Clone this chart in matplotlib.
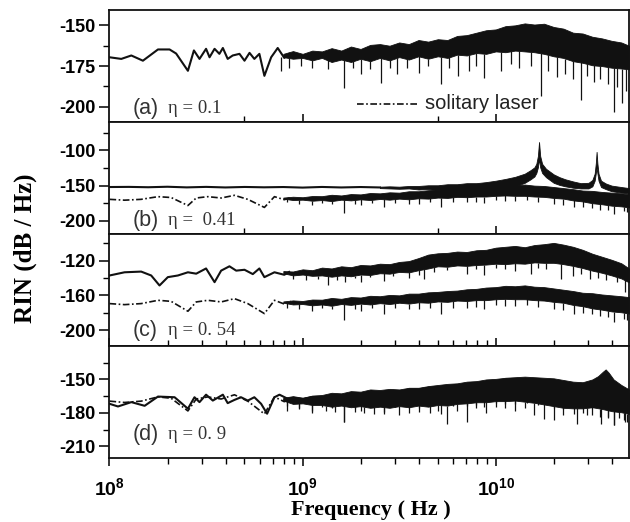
import matplotlib
matplotlib.use("Agg")
import matplotlib.pyplot as plt
import numpy as np
from matplotlib.ticker import FixedLocator, NullFormatter

# all frequencies are log10(f / Hz); levels in dB/Hz

# shared sampling for the dense (noisy) part of traces a, c and the solitary laser
BAND_LF = [8.90, 8.95, 9.00, 9.05, 9.10, 9.15, 9.20, 9.25, 9.30, 9.35,
           9.40, 9.45, 9.50, 9.55, 9.60, 9.65, 9.70, 9.75, 9.80, 9.85,
           9.90, 9.95, 10.00, 10.05, 10.10, 10.15, 10.20, 10.25, 10.30, 10.35,
           10.40, 10.45, 10.50, 10.55, 10.60, 10.65, 10.69]

# (a) eta = 0.1
A_LINE_LF = [8.000, 8.061, 8.113, 8.173, 8.251, 8.311, 8.345, 8.406, 8.437, 8.466,
             8.500, 8.518, 8.544, 8.569, 8.587, 8.612, 8.638, 8.673, 8.699, 8.725,
             8.750, 8.776, 8.802, 8.837, 8.871, 8.905, 8.930]
A_LINE_DB = [-169.6, -170.6, -168.5, -171.7, -164.8, -164.8, -167.3, -177.9, -165.4, -170.6,
             -164.4, -169.6, -164.4, -167.5, -163.9, -170.6, -168.5, -167.5, -171.7, -166.9,
             -170.6, -167.5, -181.0, -169.6, -163.9, -170.0, -167.5]
A_BAND_HI = [-167.5, -165.8, -167.5, -165.5, -166.0, -164.0, -165.5, -163.0, -164.5, -162.0,
             -161.5, -162.5, -160.5, -161.5, -159.0, -160.0, -158.5, -159.0, -156.5, -156.0,
             -154.5, -153.0, -152.5, -150.5, -150.0, -148.8, -149.5, -149.0, -151.0, -152.0,
             -154.5, -155.0, -157.0, -158.0, -159.5, -160.5, -162.5]
A_BAND_LO = [-169.5, -170.5, -170.0, -171.5, -170.0, -172.5, -171.0, -172.5, -170.5, -172.0,
             -170.0, -171.5, -169.5, -171.0, -169.0, -170.5, -169.0, -170.0, -168.0, -168.5,
             -167.0, -167.5, -166.0, -166.5, -165.5, -166.0, -166.5, -167.5, -169.0, -170.0,
             -172.0, -173.0, -174.5, -175.0, -176.0, -176.5, -177.0]
A_SPIKE_LF = [8.888, 8.931, 8.990, 9.050, 9.130, 9.216, 9.260, 9.302, 9.350, 9.405,
              9.450, 9.490, 9.540, 9.600, 9.650, 9.716, 9.760, 9.802, 9.860, 9.900,
              9.940, 10.026, 10.080, 10.120, 10.180, 10.233, 10.270, 10.319, 10.360, 10.400,
              10.439, 10.470, 10.508, 10.540, 10.580, 10.612, 10.630, 10.655, 10.675]
A_SPIKE_DB = [-178.0, -176.0, -175.0, -176.0, -177.0, -188.3, -176.0, -180.0, -177.0, -185.2,
              -176.0, -180.0, -176.0, -179.0, -175.0, -186.3, -176.0, -181.0, -178.0, -175.0,
              -182.1, -178.0, -174.0, -176.0, -175.0, -193.5, -178.0, -182.0, -180.0, -183.0,
              -195.6, -181.0, -185.0, -183.0, -186.0, -202.9, -188.0, -197.7, -190.0]

# solitary laser (dash-dot, panels b-d)
S_LINE_LF = [8.000, 8.078, 8.164, 8.251, 8.319, 8.406, 8.449, 8.509, 8.578, 8.647,
             8.716, 8.802, 8.854, 8.905, 8.940]
S_LINE_DB = [-169.5, -170.7, -169.5, -165.7, -166.9, -178.3, -167.6, -165.7, -167.6, -163.8,
             -169.5, -181.0, -165.7, -170.0, -167.0]
S_BAND_HI = [-167.0, -165.8, -166.5, -164.8, -165.0, -163.0, -164.0, -162.0, -162.5, -160.5,
             -161.0, -159.5, -160.0, -158.0, -158.0, -156.5, -156.0, -155.0, -154.5, -153.0,
             -152.5, -151.0, -150.5, -149.0, -149.5, -148.5, -150.0, -150.5, -152.0, -153.5,
             -155.0, -157.0, -157.5, -159.0, -160.0, -161.0, -162.0]
S_BAND_LO = [-168.5, -170.5, -170.0, -171.5, -170.5, -172.0, -170.0, -171.0, -169.5, -170.5,
             -169.0, -170.0, -168.5, -169.5, -168.0, -168.5, -167.0, -167.5, -166.0, -166.5,
             -165.5, -165.5, -164.5, -164.0, -164.5, -164.5, -165.5, -166.0, -167.5, -168.5,
             -171.0, -172.5, -175.0, -176.5, -178.5, -179.5, -181.0]
S_SPIKE_LF = [8.920, 8.980, 9.050, 9.100, 9.150, 9.216, 9.270, 9.300, 9.360, 9.423,
              9.480, 9.550, 9.600, 9.660, 9.716, 9.780, 9.850, 9.900, 9.940, 10.000,
              10.050, 10.100, 10.160, 10.220, 10.300, 10.350, 10.405, 10.450, 10.500, 10.540,
              10.580, 10.612, 10.663, 10.680]
S_SPIKE_DB = [-174.0, -176.0, -178.0, -175.0, -176.0, -188.6, -176.0, -178.0, -175.0, -181.0,
              -175.0, -176.0, -176.0, -174.0, -181.0, -174.0, -174.0, -173.0, -175.2, -171.0,
              -172.0, -172.0, -171.0, -173.0, -176.0, -177.0, -181.0, -180.0, -182.0, -184.0,
              -185.0, -190.5, -186.7, -188.0]

# (b) eta = 0.41
B_LINE_LF = [8.00, 8.10, 8.20, 8.30, 8.40, 8.50, 8.60, 8.70, 8.80, 8.90,
             9.00, 9.10, 9.20, 9.30, 9.40]
B_LINE_DB = [-152.0, -151.8, -152.3, -151.6, -152.5, -151.8, -152.6, -151.9, -152.4, -152.0,
             -152.8, -151.9, -152.6, -152.0, -152.6]
B_BAND_LF = [9.40, 9.45, 9.50, 9.55, 9.60, 9.65, 9.70, 9.75, 9.80, 9.85,
             9.90, 9.95, 10.00, 10.05, 10.10, 10.15, 10.18, 10.20, 10.21, 10.218,
             10.224, 10.230, 10.24, 10.26, 10.28, 10.30, 10.33, 10.36, 10.40, 10.44,
             10.48, 10.50, 10.512, 10.518, 10.522, 10.526, 10.532, 10.545, 10.57, 10.60,
             10.65, 10.69]
B_BAND_HI = [-151.5, -151.0, -151.5, -150.5, -150.5, -149.5, -149.5, -148.0, -148.0, -146.5,
             -146.5, -145.0, -143.0, -140.5, -137.5, -133.0, -128.0, -124.0, -119.0, -108.0,
             -88.0, -108.0, -119.0, -126.0, -130.0, -134.0, -138.0, -141.0, -144.0, -146.5,
             -146.0, -142.0, -133.0, -118.0, -102.0, -118.0, -133.0, -143.0, -147.0, -150.0,
             -152.0, -153.5]
B_BAND_LO = [-153.5, -154.0, -154.5, -154.0, -155.5, -155.0, -156.5, -156.0, -157.0, -157.0,
             -158.0, -157.5, -156.0, -154.0, -151.0, -146.0, -141.0, -137.0, -132.0, -124.0,
             -112.0, -124.0, -132.0, -138.0, -142.0, -146.0, -149.0, -151.0, -153.0, -154.0,
             -154.0, -151.0, -143.0, -132.0, -125.0, -132.0, -143.0, -152.0, -155.0, -158.0,
             -160.0, -161.0]

# (c) eta = 0.54
C_LINE_LF = [8.000, 8.078, 8.164, 8.216, 8.259, 8.302, 8.354, 8.406, 8.449, 8.500,
             8.544, 8.578, 8.621, 8.656, 8.699, 8.742, 8.776, 8.802, 8.854, 8.905, 8.930]
C_LINE_DB = [-137.1, -133.4, -132.6, -137.1, -148.6, -139.0, -137.1, -133.4, -135.0, -129.0,
             -144.8, -131.5, -126.5, -131.5, -130.5, -135.5, -129.0, -139.0, -133.4, -136.3, -133.0]
C_BAND_HI = [-132.0, -132.5, -130.0, -131.0, -128.0, -129.0, -126.5, -127.5, -125.0, -125.5,
             -123.5, -124.0, -121.5, -120.5, -117.0, -113.0, -111.5, -111.0, -109.5, -110.0,
             -108.0, -107.5, -105.0, -104.0, -103.0, -104.5, -102.0, -101.0, -99.5, -101.5,
             -104.0, -107.5, -112.0, -115.5, -119.0, -123.0, -129.0]
C_BAND_LO = [-134.5, -137.0, -136.0, -137.5, -137.0, -138.5, -137.0, -138.0, -136.0, -136.5,
             -134.5, -135.0, -133.0, -133.5, -131.0, -129.0, -126.5, -127.0, -125.5, -126.0,
             -125.0, -124.5, -123.5, -124.0, -123.0, -123.5, -122.0, -122.5, -122.5, -124.0,
             -126.0, -128.5, -131.5, -134.0, -137.0, -140.5, -145.0]
C_SPIKE_LF = [8.950, 9.020, 9.080, 9.130, 9.180, 9.220, 9.270, 9.300, 9.350, 9.420,
              9.470, 9.550, 9.600, 9.630, 9.680, 9.750, 9.850, 9.900, 9.940, 10.000,
              10.050, 10.100, 10.180, 10.220, 10.260, 10.340, 10.400, 10.440, 10.490, 10.530,
              10.570, 10.630, 10.670]
C_SPIKE_DB = [-141.0, -142.0, -141.0, -148.6, -142.0, -145.0, -140.0, -144.8, -139.0, -143.0,
              -138.0, -140.0, -136.0, -141.0, -133.0, -131.0, -135.0, -130.0, -137.1, -129.0,
              -130.0, -132.0, -135.0, -128.0, -130.0, -141.0, -138.0, -135.0, -141.0, -140.0,
              -142.0, -144.8, -156.0]

# (d) eta = 0.9
D_LINE_LF = [8.000, 8.044, 8.113, 8.182, 8.251, 8.337, 8.406, 8.440, 8.466, 8.500,
             8.535, 8.587, 8.612, 8.647, 8.681, 8.716, 8.750, 8.785, 8.816, 8.854,
             8.880, 8.930]
D_LINE_DB = [-171.9, -174.3, -170.4, -173.7, -165.4, -166.0, -176.3, -166.0, -170.4, -163.7,
             -169.0, -163.7, -171.3, -168.4, -166.0, -169.0, -166.0, -171.9, -180.8, -166.0,
             -163.7, -168.0]
D_BAND_LF = [8.90, 8.95, 9.00, 9.05, 9.10, 9.15, 9.20, 9.25, 9.30, 9.35,
             9.40, 9.45, 9.50, 9.55, 9.60, 9.65, 9.70, 9.75, 9.80, 9.85,
             9.90, 9.95, 10.00, 10.05, 10.10, 10.15, 10.20, 10.25, 10.30, 10.35,
             10.40, 10.45, 10.50, 10.53, 10.555, 10.569, 10.585, 10.61, 10.65, 10.69]
D_BAND_HI = [-166.5, -165.0, -166.5, -164.5, -164.0, -162.0, -162.5, -160.5, -161.0, -159.0,
             -159.5, -158.5, -159.0, -157.5, -157.5, -156.0, -155.0, -154.0, -153.5, -152.0,
             -151.5, -150.0, -149.5, -148.5, -148.0, -147.5, -148.0, -148.5, -149.0, -150.5,
             -152.0, -152.5, -150.0, -147.0, -143.0, -141.0, -144.0, -150.0, -155.0, -159.0]
D_BAND_LO = [-169.0, -172.0, -171.5, -173.0, -173.0, -174.5, -173.5, -175.0, -174.0, -175.5,
             -174.5, -175.5, -174.0, -175.0, -173.5, -174.5, -173.0, -173.5, -172.0, -171.5,
             -170.5, -170.5, -169.5, -169.5, -169.0, -170.0, -171.0, -172.5, -174.0, -175.5,
             -176.0, -176.0, -175.0, -173.0, -170.0, -168.0, -170.0, -173.0, -176.0, -178.0]
D_SPIKE_LF = [8.920, 8.980, 9.050, 9.120, 9.170, 9.216, 9.270, 9.320, 9.371, 9.420,
              9.500, 9.550, 9.600, 9.660, 9.700, 9.750, 9.800, 9.853, 9.900, 9.950,
              10.000, 10.050, 10.100, 10.150, 10.200, 10.250, 10.300, 10.350, 10.422, 10.470,
              10.543, 10.580, 10.612, 10.640, 10.670]
D_SPIKE_DB = [-178.0, -177.0, -180.0, -178.0, -179.0, -188.1, -179.0, -180.0, -180.8, -179.0,
              -182.0, -180.0, -179.0, -180.0, -178.0, -189.6, -178.0, -188.1, -176.0, -180.0,
              -175.0, -176.0, -178.0, -176.0, -182.0, -185.2, -186.7, -182.0, -189.6, -182.0,
              -189.6, -184.0, -191.1, -185.0, -188.0]

PANELS = [
    # label, eta text, ylim, major, minor
    ("(a)", "\u03b7 = 0.1", (-209.2, -140.4), [-150, -175, -200], [-162.5, -187.5]),
    ("(b)", "\u03b7 =  0.41", (-218.6, -59.2), [-100, -150, -200], [-75, -125, -175]),
    ("(c)", "\u03b7 = 0. 54", (-218.3, -89.1), [-120, -160, -200], [-100, -140, -180]),
    ("(d)", "\u03b7 = 0. 9", (-220.6, -119.9), [-150, -180, -210], [-135, -165, -195]),
]
LABEL_Y = [0.115, 0.12, 0.135, 0.214]

INK = "#111111"
DASHDOT = (0, (4, 1.5, 1, 1.5))
plt.rcParams["axes.unicode_minus"] = False
plt.rcParams["mathtext.fontset"] = "custom"
plt.rcParams["mathtext.rm"] = "Liberation Sans"
plt.rcParams["mathtext.bf"] = "Liberation Sans:bold"


def hz(lf):
    return 10.0 ** np.asarray(lf)


def trace(ax, line_lf, line_db, band_lf, band_hi, band_lo, spike_lf, spike_db, dashed=False):
    ax.plot(hz(line_lf), line_db, color=INK, lw=1.2 if dashed else 1.5,
            ls=DASHDOT if dashed else "-", solid_joinstyle="round")
    ax.fill_between(hz(band_lf), band_lo, band_hi, color=INK, lw=0.6)
    if spike_lf:
        tops = np.interp(spike_lf, band_lf, band_lo)
        ax.vlines(hz(spike_lf), spike_db, tops, color=INK, lw=0.9)


fig, axes = plt.subplots(4, 1, figsize=(6.3, 5.22), dpi=100, gridspec_kw={"hspace": 0})
fig.subplots_adjust(left=0.1738, right=0.998, top=0.9814, bottom=0.1226)

for i, ax in enumerate(axes):
    lab, eta, ylim, major, minor = PANELS[i]
    ax.set_xscale("log")
    ax.set_xlim(1e8, 4.88e10)
    ax.set_ylim(*ylim)
    ax.set_yticks(major)
    ax.yaxis.set_minor_locator(FixedLocator(minor))
    ax.set_yticklabels([str(v) for v in major], fontsize=13, fontweight="bold",
                       family="Liberation Sans")
    ax.tick_params(axis="y", which="major", direction="out", length=7, width=1.1, pad=3)
    ax.tick_params(axis="y", which="minor", direction="out", length=4, width=1.0)
    for s in ax.spines.values():
        s.set_linewidth(1.3)
        s.set_color(INK)
    ax.text(0.045, LABEL_Y[i], lab, transform=ax.transAxes, fontsize=15.5,
            family="Liberation Sans", va="center", color="#333333")
    ax.text(0.112, LABEL_Y[i], eta, transform=ax.transAxes, fontsize=13.5,
            family="Liberation Serif", va="center", color="#333333")

    if i < 2:
        ax.xaxis.set_major_locator(FixedLocator([1e9, 1e10]))
        ax.xaxis.set_minor_locator(FixedLocator([5e8, 5e9]))
    else:
        ax.xaxis.set_major_locator(FixedLocator([1e8, 1e9, 1e10]))
        ax.xaxis.set_minor_locator(FixedLocator(
            [k * 10.0 ** e for e in (8, 9, 10) for k in range(2, 10)]))
    ax.xaxis.set_minor_formatter(NullFormatter())
    if i < 3:
        ax.xaxis.set_major_formatter(NullFormatter())
    d = "out" if i == 3 else "in"
    ax.tick_params(axis="x", which="major", direction=d, length=6, width=1.1)
    ax.tick_params(axis="x", which="minor", direction=d, length=4, width=1.0)

ax_a, ax_b, ax_c, ax_d = axes
trace(ax_a, A_LINE_LF, A_LINE_DB, BAND_LF, A_BAND_HI, A_BAND_LO, A_SPIKE_LF, A_SPIKE_DB)
for ax in (ax_b, ax_c, ax_d):
    trace(ax, S_LINE_LF, S_LINE_DB, BAND_LF, S_BAND_HI, S_BAND_LO, S_SPIKE_LF, S_SPIKE_DB,
          dashed=True)
trace(ax_b, B_LINE_LF, B_LINE_DB, B_BAND_LF, B_BAND_HI, B_BAND_LO, [], [])
trace(ax_c, C_LINE_LF, C_LINE_DB, BAND_LF, C_BAND_HI, C_BAND_LO, C_SPIKE_LF, C_SPIKE_DB)
trace(ax_d, D_LINE_LF, D_LINE_DB, D_BAND_LF, D_BAND_HI, D_BAND_LO, D_SPIKE_LF, D_SPIKE_DB)

# legend entry drawn by hand inside panel (a)
ax_a.plot([0.477, 0.592], [0.161, 0.161], transform=ax_a.transAxes, color=INK, lw=1.2,
          ls=DASHDOT)
ax_a.text(0.607, 0.161, "solitary laser", transform=ax_a.transAxes, fontsize=14.5,
          family="Liberation Sans", va="center", color="#222222")

ax_d.set_xticklabels([r"$\mathbf{10^{8}}$", r"$\mathbf{10^{9}}$", r"$\mathbf{10^{10}}$"],
                     fontsize=14)
ax_d.tick_params(axis="x", which="major", pad=8)

fig.text(0.04, 0.525, "RIN (dB / Hz)", rotation=90, ha="center", va="center",
         fontsize=18, fontweight="bold", family="Liberation Serif")
fig.text(0.589, 0.023, "Frequency ( Hz )", ha="center", va="center",
         fontsize=16, fontweight="bold", family="Liberation Serif")

fig.savefig("out.png", dpi=100)
